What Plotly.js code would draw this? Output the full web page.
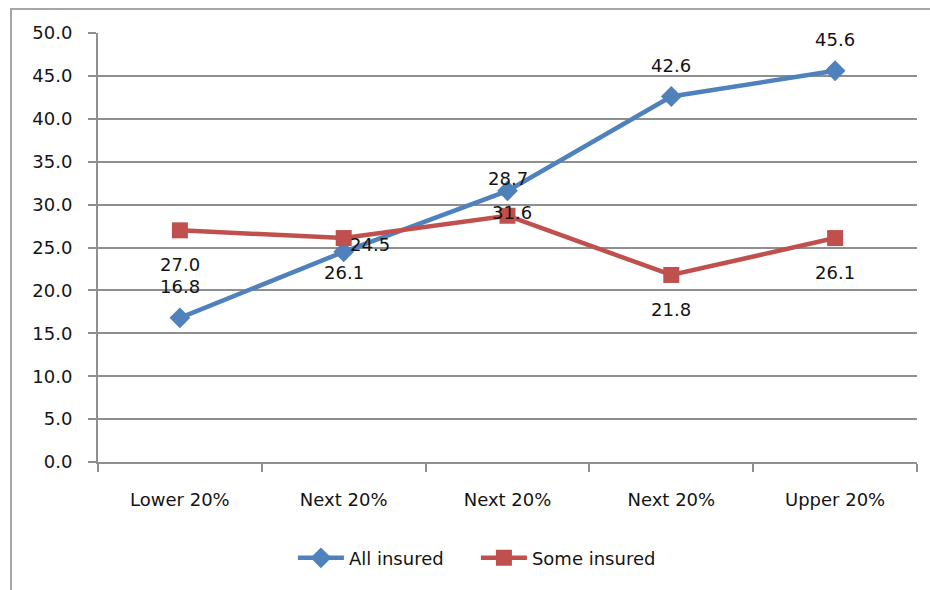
<!DOCTYPE html>
<html>
<head>
<meta charset="utf-8">
<script src="https://cdn.plot.ly/plotly-3.0.1.min.js"></script>
<style>
  html, body { margin: 0; padding: 0; background: #fff; overflow: hidden; }
  #wrap { position: relative; width: 930px; height: 590px; }
  #frame { position: absolute; left: 10px; top: 8px; width: 940px; height: 600px; border: 2px solid #a6a6a6; box-sizing: border-box; pointer-events: none; }
  #chart { position: absolute; left: 0; top: 0; width: 930px; height: 590px; }
</style>
</head>
<body>
<div id="wrap">
  <div id="chart"></div>
  <div id="frame"></div>
</div>
<script>
const categories = ['Lower 20%', 'Next 20%', 'Next 20%', 'Next 20%', 'Upper 20%'];
const allInsured = [16.8, 24.5, 31.6, 42.6, 45.6];
const someInsured = [27.0, 26.1, 28.7, 21.8, 26.1];
const yTickValues = [0, 5, 10, 15, 20, 25, 30, 35, 40, 45, 50];

const xIdx = categories.map((c, i) => i);
const boundaries = categories.map((c, i) => i - 0.5).concat([categories.length - 0.5]);

const blue = '#4F81BD';
const red = '#C0504D';
const gridCol = '#8f8f8f';
const txtCol = '#141414';
const fontFam = 'DejaVu Sans, sans-serif';

const traces = [
  {
    x: xIdx, y: allInsured, name: 'All insured', type: 'scatter', mode: 'lines+markers',
    line: { color: blue, width: 4.5 },
    marker: { symbol: 'diamond', size: 16, color: blue }
  },
  {
    x: xIdx, y: someInsured, name: 'Some insured', type: 'scatter', mode: 'lines+markers',
    line: { color: red, width: 4.5 },
    marker: { symbol: 'square', size: 16, color: red }
  }
];

// label placement offsets (pixels) for each series' data labels
const blueShift = [[0, 31], [26, 7], [4, -22], [0, 31], [0, 31]];
const redShift = [[0, -34], [0, -34], [0, 37], [0, -35], [0, -34]];

const annotations = [];
allInsured.forEach((v, i) => {
  annotations.push({ x: xIdx[i], y: v, xref: 'x', yref: 'y', text: v.toFixed(1), showarrow: false,
    xshift: blueShift[i][0], yshift: blueShift[i][1], font: { family: fontFam, size: 18, color: txtCol } });
});
someInsured.forEach((v, i) => {
  annotations.push({ x: xIdx[i], y: v, xref: 'x', yref: 'y', text: v.toFixed(1), showarrow: false,
    xshift: redShift[i][0], yshift: redShift[i][1], font: { family: fontFam, size: 18, color: txtCol } });
});

const layout = {
  width: 930, height: 590,
  margin: { l: 98, r: 13, t: 33, b: 128 },
  paper_bgcolor: 'rgba(0,0,0,0)', plot_bgcolor: '#fff',
  font: { family: fontFam, size: 18, color: txtCol },
  showlegend: true,
  legend: { orientation: 'h', x: 0.238, xanchor: 'left', y: -0.224, yanchor: 'middle',
    font: { family: fontFam, size: 18, color: txtCol }, itemwidth: 46, entrywidth: 122, entrywidthmode: 'pixels' },
  xaxis: {
    range: [-0.5, categories.length - 0.5],
    tickvals: xIdx, ticktext: categories, ticks: '',
    showgrid: false, zeroline: false,
    showline: true, linecolor: gridCol, linewidth: 2,
    ticklabelstandoff: 20,
    tickfont: { family: fontFam, size: 18, color: txtCol },
    minor: { tickvals: boundaries, ticks: 'outside', ticklen: 8, tickcolor: gridCol, tickwidth: 2, showgrid: false },
    fixedrange: true
  },
  yaxis: {
    range: [0, 50], tickvals: yTickValues, tickformat: '.1f',
    showgrid: true, gridcolor: gridCol, gridwidth: 2,
    zeroline: false,
    showline: true, linecolor: gridCol, linewidth: 2,
    ticks: 'outside', ticklen: 8, tickcolor: gridCol, tickwidth: 2,
    ticklabelstandoff: 12,
    tickfont: { family: fontFam, size: 18, color: txtCol },
    fixedrange: true
  },
  annotations: annotations
};

Plotly.newPlot('chart', traces, layout, { displayModeBar: false, staticPlot: true });
</script>
</body>
</html>
